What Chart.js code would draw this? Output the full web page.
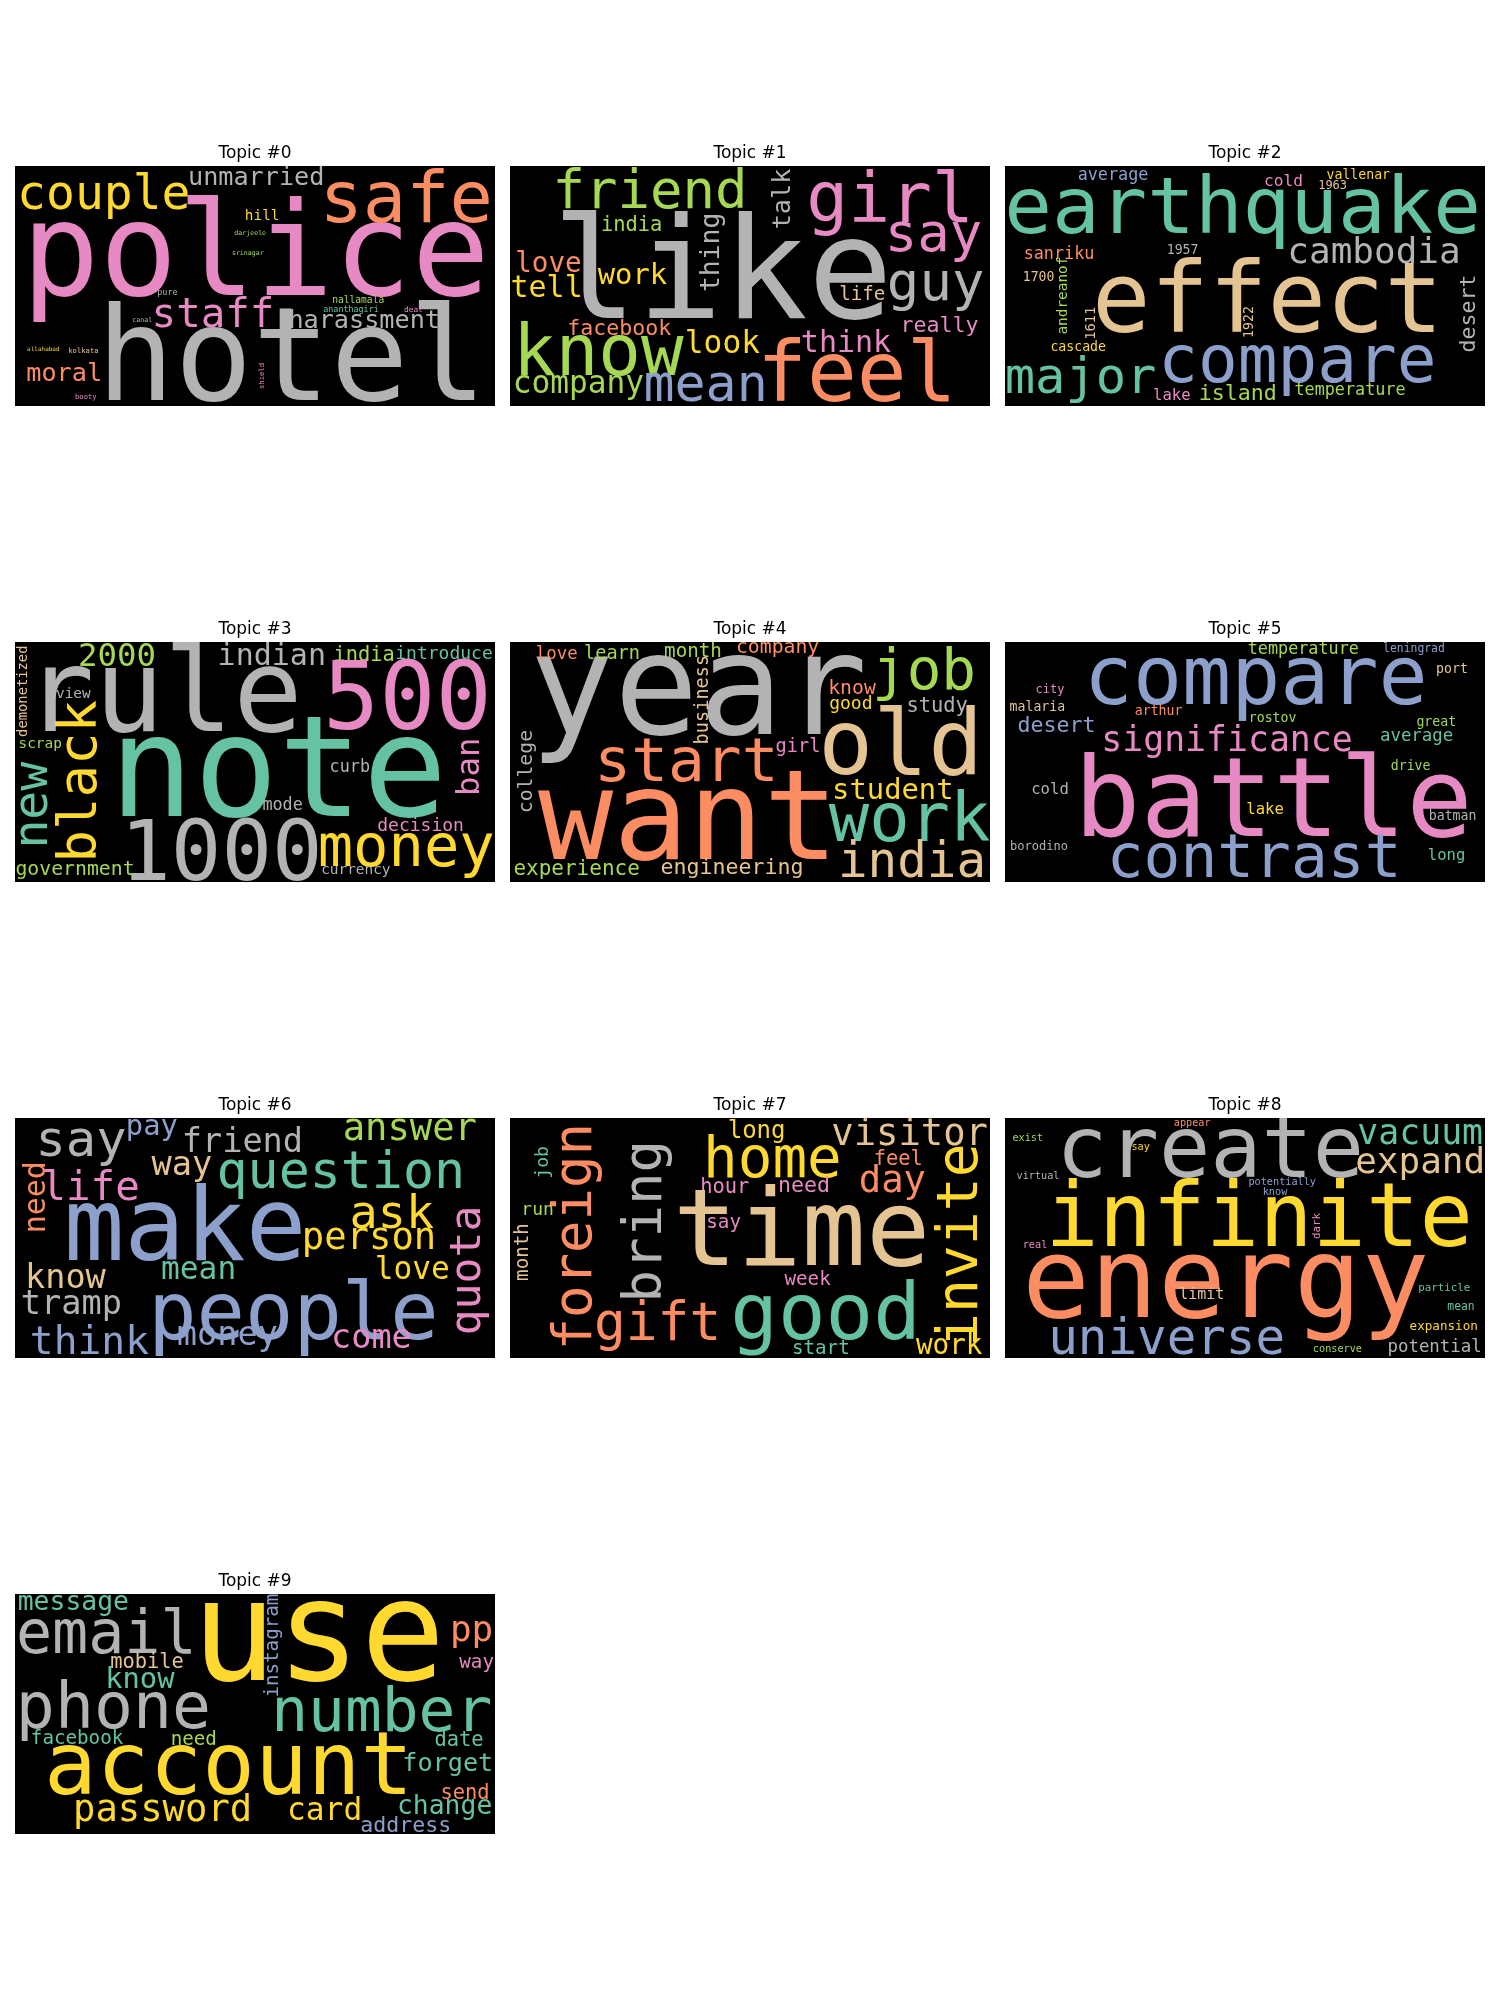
<!DOCTYPE html>
<html>
<head>
<meta charset="utf-8">
<script src="https://cdn.jsdelivr.net/npm/chart.js@4"></script>
<style>
  body { margin: 0; background: #fff; }
  #fig { position: relative; width: 1500px; height: 2000px; background: #fff; }
  #fig canvas { position: absolute; }
</style>
</head>
<body>
<div id="fig"></div>
<script>
// each word: [text, x, y, size, colour index, vertical]
// x/y are in word-cloud units (400 x 200), y is the baseline (or the text middle for vertical words)
const topic0 = [
    ["police", 200.5, 107.5, 108, 3, 0], ["hotel", 230.5, 195, 108, 7, 0], ["safe", 326, 46.4, 60, 1, 0],
    ["couple", 74, 35.8, 40, 5, 0], ["unmarried", 201, 15.8, 21, 7, 0], ["hill", 206, 45, 12, 5, 0],
    ["darjeele", 196, 57.8, 5.5, 4, 0], ["srinagar", 194, 74.4, 5.5, 4, 0], ["pure", 127, 107.8, 7, 7, 0],
    ["staff", 165, 134, 34, 3, 0], ["harassment", 291, 135, 21, 7, 0], ["nallamala", 286, 114, 8, 4, 0],
    ["ananthagiri", 280, 122, 7, 0, 0], ["deal", 332, 122, 6.5, 3, 0], ["canal", 106, 130, 5.5, 7, 0],
    ["allahabad", 23.6, 154, 5, 5, 0], ["kolkata", 57, 156, 6, 6, 0], ["moral", 41, 179, 21, 1, 0],
    ["shield", 207.5, 175, 6, 3, 1], ["booty", 59, 194, 6, 3, 0]
];
const topic1 = [
    ["like", 177, 127, 118, 7, 0], ["friend", 116.7, 35.3, 45, 4, 0], ["girl", 316.7, 46.4, 58, 3, 0],
    ["say", 353, 70.5, 45, 3, 0], ["talk", 233, 27.5, 21, 7, 1], ["thing", 174, 72, 22, 7, 1],
    ["india", 101.4, 54, 17, 4, 0], ["love", 32, 88, 23, 1, 0], ["tell", 30.5, 109, 25, 5, 0],
    ["work", 102, 98, 24, 5, 0], ["life", 293.6, 112, 16, 6, 0], ["guy", 354.7, 111.7, 45, 7, 0],
    ["really", 358, 138, 18, 3, 0], ["facebook", 91, 141, 18, 1, 0], ["know", 73.6, 174, 59, 4, 0],
    ["look", 177, 156, 26, 5, 0], ["think", 280, 155, 25, 3, 0], ["feel", 289, 196, 69, 1, 0],
    ["company", 57, 189.4, 26, 4, 0], ["mean", 163, 196, 43, 2, 0]
];
const topic2 = [
    ["earthquake", 198, 56, 66, 0, 0], ["average", 90, 11.7, 14, 2, 0], ["cold", 232, 16.4, 13.5, 3, 0],
    ["vallenar", 294.4, 11, 11, 5, 0], ["1963", 273, 19, 10, 6, 0], ["cambodia", 307.5, 80.5, 30, 7, 0],
    ["sanriku", 45, 77.5, 14, 1, 0], ["1957", 148, 73, 11, 7, 0], ["1700", 28, 95.5, 11, 6, 0],
    ["andreanof", 52, 108, 12, 4, 1], ["1611", 75, 131, 11.5, 6, 1], ["1922", 207, 130, 11, 6, 1],
    ["effect", 218.7, 138, 81, 6, 0], ["desert", 392, 123, 18, 7, 1], ["cascade", 61, 154, 11, 5, 0],
    ["major", 63, 189.4, 42, 0, 0], ["compare", 243.7, 179.7, 55, 2, 0], ["lake", 139, 195, 13, 3, 0],
    ["island", 194, 195, 18, 4, 0], ["temperature", 287.5, 190.8, 14, 4, 0]
];
const topic3 = [
    ["rule", 124, 74, 96, 7, 0], ["2000", 85, 20, 27, 4, 0], ["indian", 214, 19.4, 25, 7, 0],
    ["india", 291, 15.8, 17, 4, 0], ["introduce", 357.5, 14, 15, 0, 0], ["500", 327, 72.8, 78, 3, 0],
    ["demonetized", 9.7, 41, 11.5, 6, 1], ["view", 48.6, 47, 12, 7, 0], ["scrap", 21, 88, 12, 4, 0],
    ["black", 67.5, 116, 45, 5, 1], ["new", 26.4, 136, 40, 0, 1], ["note", 219.4, 145, 117, 0, 0],
    ["curb", 279, 108, 14, 7, 0], ["ban", 387, 104, 27, 3, 1], ["mode", 223, 140, 14, 7, 0],
    ["decision", 338, 157.5, 15, 3, 0], ["1000", 172, 198, 70, 7, 0], ["money", 326, 186.7, 49, 5, 0],
    ["government", 50, 194, 16.5, 4, 0], ["currency", 284, 193.6, 12, 7, 0]
];
const topic4 = [
    ["year", 157, 77, 117, 7, 0], ["love", 39, 14.4, 14.5, 1, 0], ["learn", 85, 14.4, 15.5, 4, 0],
    ["month", 152.5, 12.5, 16, 4, 0], ["company", 223, 9, 16.5, 1, 0], ["job", 345, 39.4, 48, 4, 0],
    ["business", 165, 48, 15.5, 6, 1], ["know", 285, 43.6, 16.5, 1, 0], ["good", 284, 56, 15, 5, 0],
    ["study", 356, 58, 17, 7, 0], ["old", 325.6, 110, 76, 6, 0], ["girl", 240, 92, 15.5, 3, 0],
    ["start", 147, 116, 51, 1, 0], ["college", 18, 108, 16.5, 7, 1], ["student", 319, 130.5, 24, 5, 0],
    ["want", 148.6, 181, 104, 1, 0], ["work", 333, 166, 56, 0, 0], ["experience", 55.5, 194, 17.5, 4, 0],
    ["engineering", 185, 193.6, 18, 6, 0], ["india", 335, 196, 41, 6, 0]
];
const topic5 = [
    ["compare", 209, 52, 68, 2, 0], ["temperature", 248.6, 10.3, 14, 4, 0], ["leningrad", 340.8, 8, 9.5, 2, 0],
    ["port", 372.5, 25.6, 11, 6, 0], ["city", 37.5, 42.8, 10, 3, 0], ["malaria", 27, 57.5, 11, 6, 0],
    ["arthur", 128, 61, 11, 1, 0], ["rostov", 223, 67, 11, 4, 0], ["desert", 43, 75, 18, 2, 0],
    ["significance", 185, 91, 29, 3, 0], ["great", 359.4, 70, 11, 4, 0], ["average", 343, 82.5, 14.5, 0, 0],
    ["drive", 338, 106.7, 11, 4, 0], ["cold", 37.5, 127, 13, 7, 0], ["battle", 223.6, 161.7, 92, 3, 0],
    ["lake", 216.7, 143, 13, 5, 0], ["batman", 373, 148, 11, 7, 0], ["borodino", 28.3, 173, 10, 7, 0],
    ["contrast", 207.6, 196, 51, 2, 0], ["long", 368, 181.7, 13, 0, 0]
];
const topic6 = [
    ["say", 55, 31.7, 42, 7, 0], ["pay", 114, 14.4, 24, 2, 0], ["friend", 189.5, 28.3, 28, 7, 0],
    ["answer", 329, 18.6, 31, 4, 0], ["need", 25, 66, 25, 1, 1], ["life", 63, 68.6, 34, 3, 0],
    ["way", 139, 47.8, 28, 6, 0], ["question", 271.5, 58.3, 43, 0, 0], ["make", 141.7, 118.6, 84, 2, 0],
    ["ask", 314, 92, 39, 5, 0], ["person", 295, 109, 31, 5, 0], ["quota", 387.5, 127, 36, 3, 1],
    ["know", 42, 142, 28, 6, 0], ["mean", 153, 134, 26, 0, 0], ["love", 331, 134.4, 26, 5, 0],
    ["tramp", 47, 163, 28, 7, 0], ["people", 232, 184, 67, 2, 0], ["think", 62, 196.4, 33, 2, 0],
    ["money", 177, 189.4, 28, 2, 0], ["come", 297, 192, 28, 3, 0]
];
const topic7 = [
    ["foreign", 67.5, 99, 45, 1, 1], ["job", 32, 37, 15, 0, 1], ["run", 23, 81, 15, 4, 0],
    ["month", 15.3, 111.7, 16, 6, 1], ["bring", 126, 86, 45, 7, 1], ["long", 205.5, 16.7, 20, 5, 0],
    ["home", 218.7, 49, 48, 5, 0], ["visitor", 333, 22.8, 31, 6, 0], ["feel", 323.6, 39.4, 17, 1, 0],
    ["day", 318.6, 61.7, 31, 1, 0], ["hour", 179, 62.5, 17, 3, 0], ["need", 245, 61.7, 18, 3, 0],
    ["invite", 389, 106, 47, 5, 1], ["time", 243, 122.8, 89, 6, 0], ["say", 178, 92, 16, 3, 0],
    ["week", 248, 139.4, 16, 3, 0], ["gift", 123, 185, 44, 1, 0], ["good", 263, 184, 66, 0, 0],
    ["start", 259, 196.4, 16, 0, 0], ["work", 366, 197, 23, 5, 0]
];
const topic8 = [
    ["create", 171, 49, 71, 7, 0], ["appear", 156, 6.7, 8.5, 1, 0], ["exist", 19, 19.4, 8.5, 4, 0],
    ["say", 113, 27, 8.5, 5, 0], ["vacuum", 346, 21.4, 29, 0, 0], ["expand", 346, 45.6, 30, 6, 0],
    ["virtual", 27.5, 51, 8.5, 7, 0], ["potentially", 231, 55.5, 8.5, 2, 0], ["know", 225, 64.4, 8.5, 2, 0],
    ["infinite", 211.8, 107, 74, 5, 0], ["dark", 262.5, 90, 9, 3, 1], ["real", 25, 108, 8.5, 3, 0],
    ["energy", 184, 166, 94, 1, 0], ["limit", 164, 151, 12.5, 6, 0], ["particle", 366, 144.4, 9, 0, 0],
    ["mean", 380, 159.7, 9.5, 0, 0], ["expansion", 365.6, 177, 10.5, 5, 0], ["universe", 134.7, 196.4, 41, 2, 0],
    ["conserve", 277, 195, 8.5, 4, 0], ["potential", 358, 195, 14.5, 7, 0]
];
const topic9 = [
    ["use", 253, 71.4, 117, 5, 0], ["message", 48.6, 13, 22, 0, 0], ["email", 76, 49, 50, 7, 0],
    ["pp", 380.5, 39.4, 30, 1, 0], ["way", 384.7, 62, 16, 3, 0], ["mobile", 110, 61.7, 17, 6, 0],
    ["know", 104, 78, 24, 0, 0], ["instagram", 219.4, 43, 16, 2, 1], ["phone", 82, 111.7, 54, 7, 0],
    ["number", 305.6, 114.4, 51, 0, 0], ["facebook", 51.7, 125, 16, 0, 0], ["need", 149, 125.6, 16, 4, 0],
    ["date", 370, 127, 17, 0, 0], ["account", 178, 167, 73, 5, 0], ["forget", 360.6, 147.8, 21, 0, 0],
    ["send", 375, 170.5, 17, 1, 0], ["password", 123, 189.4, 31, 5, 0], ["card", 258, 188, 26, 5, 0],
    ["change", 358, 183, 22, 0, 0], ["address", 325.6, 198, 18, 2, 0]
];

const topics = [topic0, topic1, topic2, topic3, topic4, topic5, topic6, topic7, topic8, topic9];

// Set2 colormap
const set2 = ["#66c2a5", "#fc8d62", "#8da0cb", "#e78ac3", "#a6d854", "#ffd92f", "#e5c494", "#b3b3b3"];

const wordPlugin = {
    id: "wordcloud",
    beforeDraw(chart) {
        const a = chart.chartArea;
        chart.ctx.save();
        chart.ctx.fillStyle = "#000";
        chart.ctx.fillRect(a.left, a.top, a.right - a.left, a.bottom - a.top);
        chart.ctx.restore();
    },
    afterDatasetsDraw(chart) {
        const ctx = chart.ctx;
        const a = chart.chartArea;
        const xs = chart.scales.x, ys = chart.scales.y;
        ctx.save();
        ctx.beginPath();
        ctx.rect(a.left, a.top, a.right - a.left, a.bottom - a.top);
        ctx.clip();
        ctx.textAlign = "center";
        ctx.textBaseline = "alphabetic";
        chart.data.datasets[0].data.forEach(p => {
            const px = xs.getPixelForValue(p.x);
            const py = ys.getPixelForValue(p.y);
            const fs = Math.abs(ys.getPixelForValue(p.size) - ys.getPixelForValue(0));
            ctx.font = fs.toFixed(2) + 'px "DejaVu Sans Mono"';
            ctx.fillStyle = set2[p.color];
            ctx.save();
            ctx.translate(px, py);
            if (p.vertical) ctx.rotate(-Math.PI / 2);
            ctx.fillText(p.word, 0, 0);
            ctx.restore();
        });
        ctx.restore();
    }
};

const fig = document.getElementById("fig");

topics.forEach((words, i) => {
    const col = i % 3, row = Math.floor(i / 3);
    const canvas = document.createElement("canvas");
    canvas.width = 480;
    canvas.height = 276;
    canvas.style.left = (15 + col * 495) + "px";
    canvas.style.top = (166 + row * 476 - 36) + "px";
    fig.appendChild(canvas);

    new Chart(canvas.getContext("2d"), {
        type: "scatter",
        data: {
            datasets: [{
                data: words.map(w => ({ x: w[1], y: w[2], word: w[0], size: w[3], color: w[4], vertical: w[5] })),
                pointRadius: 0
            }]
        },
        options: {
            responsive: false,
            animation: false,
            events: [],
            layout: { padding: 0 },
            plugins: {
                legend: { display: false },
                tooltip: { enabled: false },
                title: {
                    display: true,
                    text: "Topic #" + i,
                    color: "#000",
                    font: { family: "DejaVu Sans", size: 17, weight: "normal", lineHeight: 1 },
                    padding: { top: 15, bottom: 4 }
                }
            },
            scales: {
                x: { type: "linear", min: 0, max: 400, display: false },
                y: { type: "linear", min: 0, max: 200, reverse: true, display: false }
            }
        },
        plugins: [wordPlugin]
    });
});
</script>
</body>
</html>
